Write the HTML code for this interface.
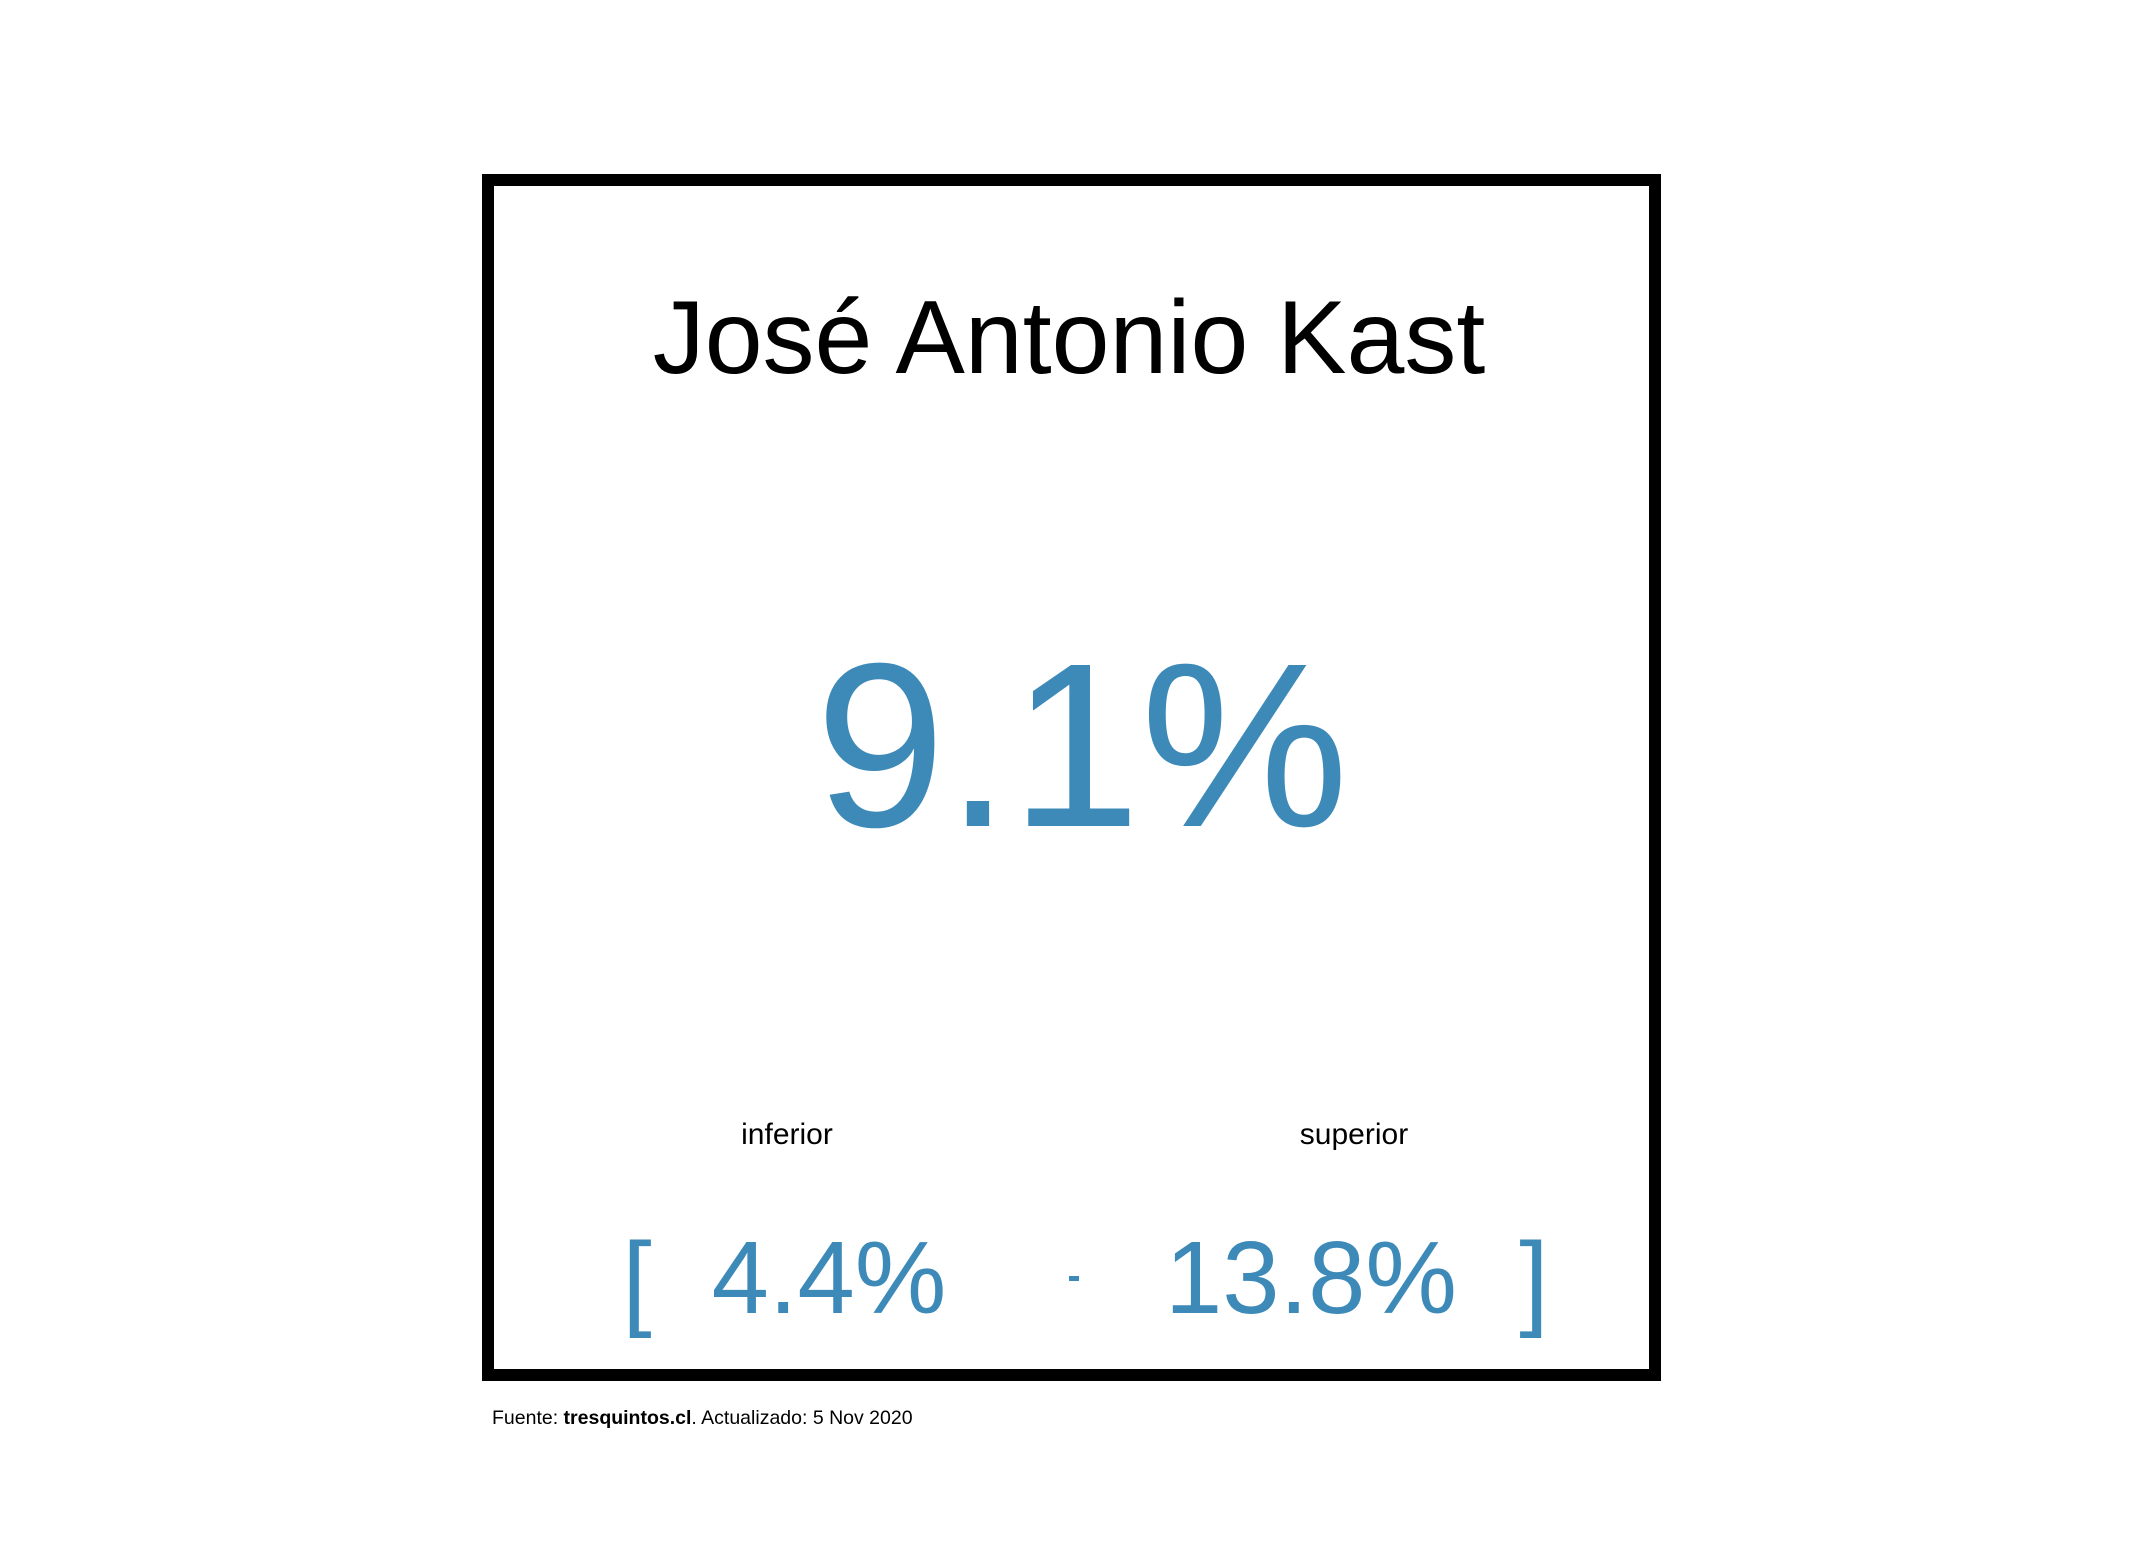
<!DOCTYPE html>
<html><head><meta charset="utf-8"><style>
html,body{margin:0;padding:0;background:#fff;}
svg{display:block;}
text{font-family:"Liberation Sans",Arial,sans-serif;}
</style></head><body>
<svg width="2142" height="1556" viewBox="0 0 2142 1556">
<rect x="488" y="180" width="1167" height="1195" fill="none" stroke="#000" stroke-width="12"/>
<text x="1069" y="373" font-size="104" text-anchor="middle" fill="#000">José Antonio Kast</text>
<text x="1082" y="826" font-size="234" text-anchor="middle" fill="#3d8ab9">9.1%</text>
<text x="787" y="1144" font-size="30" text-anchor="middle" fill="#000">inferior</text>
<text x="1354" y="1144" font-size="30" text-anchor="middle" fill="#000">superior</text>
<text x="637" y="1316" font-size="106" text-anchor="middle" fill="#3d8ab9">[</text>
<text x="829" y="1313" font-size="103" text-anchor="middle" fill="#3d8ab9">4.4%</text>
<rect x="1069" y="1276" width="10" height="5" fill="#3d8ab9"/>
<text x="1311" y="1313" font-size="103" text-anchor="middle" fill="#3d8ab9">13.8%</text>
<text x="1534" y="1316" font-size="106" text-anchor="middle" fill="#3d8ab9">]</text>
<text x="492" y="1424" font-size="19.5" fill="#000">Fuente: <tspan font-weight="bold">tresquintos.cl</tspan>. Actualizado: 5 Nov 2020</text>
</svg>
</body></html>
